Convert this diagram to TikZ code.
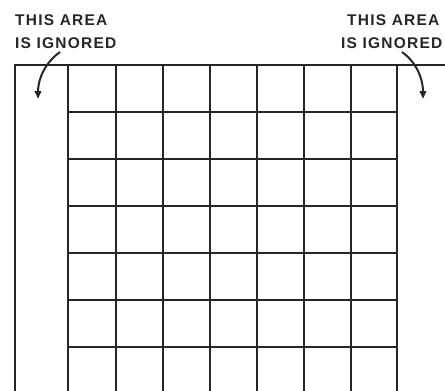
\documentclass[tikz,border=0pt]{standalone}
\usepackage{fontspec}
\setmainfont{Liberation Sans}[LetterSpace=8]
\usetikzlibrary{arrows.meta}
\begin{document}
\begin{tikzpicture}[x=1pt,y=-1pt,
  gridline/.style={line width=2.6pt,draw=black!85},
  label/.style={anchor=base west,inner sep=0pt,font=\fontsize{15.5}{18}\selectfont\bfseries,text=black!85},
  pointer/.style={line width=2pt,draw=black!85,-{Triangle[length=8pt,width=6.5pt]}}]
\useasboundingbox (0,0) rectangle (445,391);
\begin{scope}
\clip (0,0) rectangle (445,391);
% outer frame
\draw[gridline] (15,391) -- (15,65) -- (450,65);
% vertical grid lines
\foreach \x in {68,116,163,210,257,304,351,397}
  \draw[gridline] (\x,65) -- (\x,395);
% horizontal grid lines
\foreach \y in {112,159,206,253,300,347}
  \draw[gridline] (68,\y) -- (397,\y);
\end{scope}
% labels
\node[label] (l1) at (15,25) {THIS AREA};
\node[label] (l2) at (15,48) {IS IGNORED};
\node[label] (r1) at (347,25) {THIS AREA};
\node[label] (r2) at (341,48) {IS IGNORED};
% arrows
\coordinate (la) at (60,52);
\coordinate (lb) at (38,99);
\coordinate (ra) at (402,52);
\coordinate (rb) at (423,99);
\draw[pointer] (la) .. controls (46,62) and (38,78) .. (lb);
\draw[pointer] (ra) .. controls (416,62) and (423,78) .. (rb);
\end{tikzpicture}
\end{document}
